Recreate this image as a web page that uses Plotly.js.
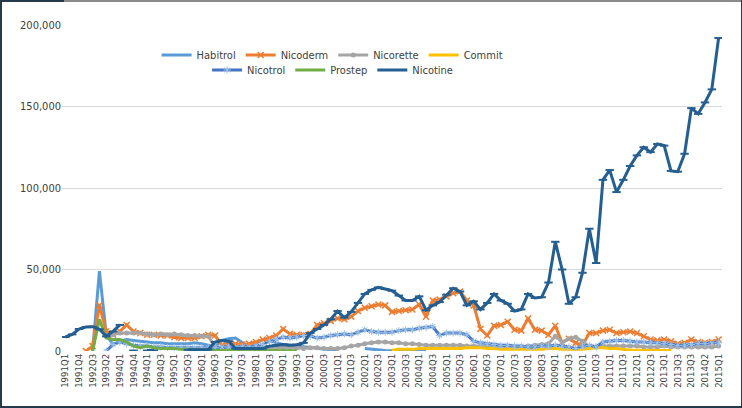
<!DOCTYPE html>
<html>
<head>
<meta charset="utf-8">
<script src="https://cdn.plot.ly/plotly-3.0.1.min.js"></script>
<style>
  body { margin: 0; background: #fff; }
  #wrap { position: relative; width: 742px; height: 408px; overflow: hidden; }
  #plot { width: 742px; height: 408px; }
  .edge { position: absolute; }
</style>
</head>
<body>
<div id="wrap">
  <div id="plot"></div>
  <div class="edge" style="left:0;top:0;width:742px;height:2px;background:#8a8a8a"></div>
  <div class="edge" style="left:0;top:0;width:64px;height:2px;background:#24394a"></div>
  <div class="edge" style="left:0;top:0;width:2px;height:408px;background:#24394a"></div>
  <div class="edge" style="left:0;bottom:0;width:742px;height:2px;background:#24394a"></div>
  <div class="edge" style="right:0;top:0;width:1px;height:408px;background:#24394a"></div>
</div>
<script>
// tick labels, one every second quarter (as printed on the chart)
const tickLabels = ['1991Q1','1991Q4','1992Q3','1993Q2','1994Q1','1994Q4','1994Q1','1994Q3','1995Q1','1995Q3',
  '1996Q1','1996Q3','1997Q1','1997Q3','1998Q1','1998Q3','1999Q1','1999Q3','2000Q1','2000Q3',
  '2001Q1','2001Q3','2002Q1','2002Q3','2003Q1','2003Q3','2004Q1','2004Q3','2005Q1','2005Q3',
  '2006Q1','2006Q3','2007Q1','2007Q3','2008Q1','2008Q3','2009Q1','2009Q3','2010Q1','2010Q3',
  '2011Q1','2011Q3','2012Q1','2012Q3','2013Q1','2013Q3','2013Q3','2014Q2','2015Q1'];

const habitrol = [null,null,null,null,0,49000,10000,4000,6000,7000,
  6500,6000,5500,5000,5000,4500,4500,4500,4500,5000,
  4500,3500,2500,6500,7500,8000,5000,2500,5000,7000,
  6500,5000,4000,3500,3000,2500,2000,1500,1000,500,
  300,null,null,null,1500,1000,500,300,200,200,
  200,200,200,100,null,null,null,null,null,null,
  null,null,null,null,null,null,null,null,null,null,
  null,null,null,null,null,null,null,null,null,null,
  null,null,null,null,null,null,null,null,null,null,
  null,null,null,null,null,null,null];

const nicoderm = [null,null,null,0,3000,28000,12000,10000,12000,16000,
  12000,11000,10000,10000,9500,9500,8500,8000,8000,8000,
  9000,10000,9500,3500,4500,4500,4000,4500,5500,7000,
  8000,9500,13500,10500,10000,10000,10500,16000,17000,18500,
  20000,19500,21000,24500,26500,27500,28500,28000,24000,24500,
  25000,25500,28500,21000,31000,31500,33500,35500,36500,31000,
  28000,13500,9500,15500,16000,18000,13000,12500,20000,13000,
  12500,10000,15500,5000,7500,5000,3500,11000,11000,12500,
  13000,11000,11500,12000,11000,9000,7000,6500,7000,6000,
  4500,5000,7000,5500,5000,5500,7000];

const nicorette = [null,null,null,null,null,null,9000,10000,11000,11000,
  11000,11000,10500,10000,10500,10000,10500,10000,9500,9500,
  9000,9000,2500,2000,1500,1500,1500,1500,1500,1500,
  1500,2000,2000,2000,2000,1500,2000,2000,1500,1500,
  1500,2000,3000,3500,4500,5000,5500,5500,5000,5000,
  4500,4500,4000,3500,3500,3500,3500,3500,3500,3000,
  3000,3000,2500,2500,2500,2500,2500,2500,3000,3500,
  4000,4500,9000,5500,7500,8500,6000,2500,2500,3000,
  3000,3000,3000,3000,3000,2500,2500,2500,3000,2500,
  2500,2500,2500,2500,2500,2500,3000];

const commit = [null,null,null,null,null,null,null,null,null,null,
  null,null,null,null,null,null,null,null,null,null,
  null,null,null,null,null,null,null,null,null,null,
  null,null,null,null,null,null,null,null,null,null,
  null,null,null,null,null,null,null,null,500,1000,
  1000,1000,1500,1500,1500,1500,1500,1500,1500,2000,
  2000,2000,1500,1500,1000,1000,1000,1000,1000,1000,
  1000,1500,1500,1000,1000,1000,1000,1500,2000,2000,
  1500,1500,1000,500,500,300,300,300,300,300,
  null,null,null,null,null,null,null];

const nicotrol = [null,null,null,null,null,null,0,4000,5500,4500,
  3500,3000,3000,2500,2500,2000,2000,2000,2000,2000,
  2000,2000,2000,2500,2500,2500,2500,2500,3000,4000,
  6000,7000,8500,8000,8500,9500,9000,8000,8500,9500,
  10000,10500,10000,11500,13000,12000,11500,11500,11500,12500,
  13000,13000,14000,14500,15000,9500,11000,11000,11000,10000,
  6000,5000,4500,4000,3500,3500,3000,3000,2500,2500,
  3000,3000,3500,3000,2500,1500,3000,3500,2500,5500,
  6000,6500,6500,6000,5500,5500,5000,5000,4500,4000,
  3500,3500,4000,4500,4500,5000,5000];

const prostep = [null,null,null,null,0,19500,8000,7000,7000,5500,
  3000,2000,3000,2000,1500,1500,1500,1000,1000,800,
  800,700,500,500,500,400,400,400,300,300,
  200,200,200,200,200,null,null,null,null,null,
  null,null,null,null,null,null,null,null,null,null,
  null,null,null,null,null,null,null,null,null,null,
  null,null,null,null,null,null,null,null,null,null,
  null,null,null,null,null,null,null,null,null,null,
  null,null,null,null,null,null,null,null,null,null,
  null,null,null,null,null,null,null];

const nicotine = [8600,10200,13500,14700,14900,13300,9000,12000,16000,null,
  300,null,300,300,null,null,null,null,800,800,
  800,900,5500,6500,6000,1500,1500,1500,1200,1500,
  3000,3500,4000,3500,3800,5000,11000,13500,16000,19500,
  24500,20500,24000,29500,35000,37500,39000,38000,37000,34000,
  31000,31000,33500,25000,28000,30000,34500,38500,36500,28000,
  30500,25500,29500,35000,31000,29000,24500,25500,35000,32500,
  33000,42000,67000,50000,29000,33000,48000,75000,54000,105000,
  111000,97500,105000,113500,120000,125000,122000,127000,126000,110500,
  110000,121000,149000,145500,152500,160500,192000];

const quarterIndex = nicotine.map((v, i) => i);
const tickPos = tickLabels.map((t, k) => k * 2);

const fontFam = 'DejaVu Sans Condensed, Liberation Sans Narrow, Arial Narrow, sans-serif';

function series(name, y, color, legend, marker) {
  return {
    x: quarterIndex, y: y, name: name, type: 'scatter',
    mode: marker ? 'lines+markers' : 'lines',
    line: { color: color, width: 3 },
    marker: marker || {},
    connectgaps: false,
    legend: legend
  };
}

const traces = [
  series('Habitrol', habitrol, '#5b9bd5', 'legend'),
  series('Nicoderm', nicoderm, '#ed7d31', 'legend',
    { symbol: 'x-thin-open', size: 6, color: '#ed7d31', line: { color: '#ed7d31', width: 1.5 } }),
  series('Nicorette', nicorette, '#a5a5a5', 'legend',
    { symbol: 'circle', size: 5, color: '#a5a5a5' }),
  series('Commit', commit, '#ffc000', 'legend'),
  series('Nicotrol', nicotrol, '#4472c4', 'legend2',
    { symbol: 'asterisk-open', size: 6, color: '#9dc3e6', line: { color: '#9dc3e6', width: 1 } }),
  series('Prostep', prostep, '#70ad47', 'legend2'),
  series('Nicotine', nicotine, '#255e91', 'legend2',
    { symbol: 'line-ew-open', size: 6, color: '#255e91', line: { color: '#255e91', width: 2 } })
];

const legendFont = { family: fontFam, size: 11, color: '#404040' };

const layout = {
  width: 742, height: 408,
  margin: { l: 62, r: 20, t: 25, b: 57 },
  paper_bgcolor: '#ffffff', plot_bgcolor: '#ffffff',
  font: { family: fontFam, size: 11, color: '#404040' },
  showlegend: true,
  legend: {
    orientation: 'h', x: 0.41, xanchor: 'center', y: 0.908, yanchor: 'middle',
    font: legendFont, bgcolor: 'rgba(0,0,0,0)', itemwidth: 30
  },
  legend2: {
    orientation: 'h', x: 0.41, xanchor: 'center', y: 0.862, yanchor: 'middle',
    font: legendFont, bgcolor: 'rgba(0,0,0,0)', itemwidth: 30
  },
  xaxis: {
    range: [-0.5, 96.5],
    tickmode: 'array', tickvals: tickPos, ticktext: tickLabels,
    tickangle: -90, tickfont: { family: fontFam, size: 9.5, color: '#404040' },
    showgrid: false, zeroline: false, showline: false, ticks: ''
  },
  yaxis: {
    range: [0, 200000], dtick: 50000, tickformat: ',d',
    tickfont: { family: fontFam, size: 11, color: '#404040' },
    gridcolor: '#d9d9d9', gridwidth: 1, zeroline: false, showline: false, ticks: ''
  }
};

Plotly.newPlot('plot', traces, layout, { displayModeBar: false, staticPlot: true });
</script>
</body>
</html>
